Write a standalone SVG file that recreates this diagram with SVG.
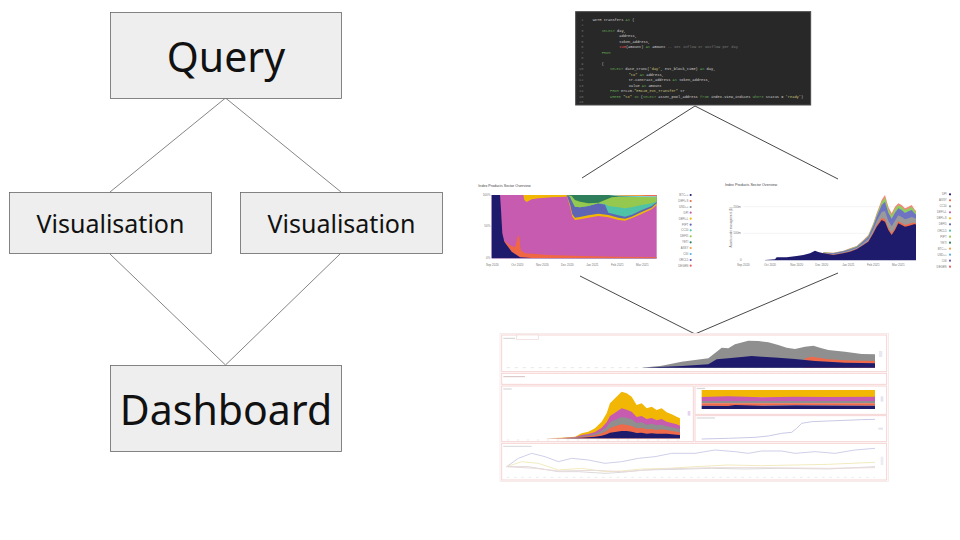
<svg xmlns="http://www.w3.org/2000/svg" width="960" height="540" viewBox="0 0 960 540">
<defs>
<style>
.node rect{fill:#eeeeee;stroke:#666666;stroke-width:0.8}
.node text{font-family:"Noto Sans","Open Sans",sans-serif;fill:#111;text-anchor:middle}
.conn line{stroke:#666666;stroke-width:0.8}
.conn2 line{stroke:#333333;stroke-width:0.9}
.code text{font-family:"Liberation Mono","DejaVu Sans Mono",monospace;font-size:11px;fill:#d4d4d4;white-space:pre}
.code .ln{fill:#6e6e6e;text-anchor:end}
.kw{fill:#5fa04e}
.st{fill:#c9c77a}
.fn{fill:#e05252}
.cm{fill:#7a7a7a}
.ax{font-family:"Liberation Sans","Noto Sans",sans-serif;font-size:9px;fill:#777}
.ttl{font-family:"Liberation Sans","Noto Sans",sans-serif;font-size:11px;fill:#444}
.lg{font-family:"Liberation Sans","Noto Sans",sans-serif;font-size:8.5px;fill:#777;text-anchor:end}
.pan{fill:#ffffff;stroke:#f6d3d3;stroke-width:3}
.ln1{fill:none;stroke-width:3}
</style>
</defs>
<rect width="960" height="540" fill="#ffffff"/>

<g id="connectors" class="conn">
<line x1="225.5" y1="98" x2="110" y2="192"/>
<line x1="225.5" y1="98" x2="341" y2="192"/>
<line x1="110" y1="254" x2="225.5" y2="365"/>
<line x1="340" y1="254" x2="225.5" y2="365"/>
</g>

<g id="query" class="node"><rect x="110.5" y="12.5" width="231" height="86"/><text x="226" y="72" font-size="41">Query</text></g>
<g id="vis-left" class="node"><rect x="9.5" y="192.5" width="202" height="61"/><text x="110.5" y="233" font-size="25">Visualisation</text></g>
<g id="vis-right" class="node"><rect x="240.5" y="192.5" width="202" height="61"/><text x="341.5" y="233" font-size="25">Visualisation</text></g>
<g id="dashboard" class="node"><rect x="110.5" y="365.5" width="231" height="86"/><text x="226" y="425" font-size="41">Dashboard</text></g>

<g id="connectors-right" class="conn2">
<line x1="695" y1="106" x2="582" y2="178"/>
<line x1="695" y1="106" x2="838" y2="179"/>
<line x1="580" y1="276" x2="695" y2="334"/>
<line x1="838" y1="273" x2="695" y2="334"/>
</g>

<g id="code-screenshot" class="code" transform="translate(570,5) scale(0.33333)">
<rect x="17" y="20" width="705" height="280" fill="#282828" stroke="#4a4a4a" stroke-width="3"/>
<text class="ln" x="40" y="48">1</text><text class="ln" x="40" y="64">2</text><text class="ln" x="40" y="81">3</text><text class="ln" x="40" y="97">4</text><text class="ln" x="40" y="114">5</text><text class="ln" x="40" y="130">6</text><text class="ln" x="40" y="146">7</text><text class="ln" x="40" y="163">8</text><text class="ln" x="40" y="179">9</text><text class="ln" x="40" y="196">10</text><text class="ln" x="40" y="212">11</text><text class="ln" x="40" y="228">12</text><text class="ln" x="40" y="245">13</text><text class="ln" x="40" y="261">14</text><text class="ln" x="40" y="278">15</text><text class="ln" x="40" y="294">16</text>
<text x="68" y="48">WITH transfers <tspan class="kw">AS</tspan> (</text>
<text x="95" y="81"><tspan class="kw">SELECT</tspan> day,</text>
<text x="148" y="97">address,</text>
<text x="148" y="114">token_address,</text>
<text x="148" y="130"><tspan class="fn">sum</tspan>(amount) <tspan class="kw">AS</tspan> amount <tspan class="cm">-- Net inflow or outflow per day</tspan></text>
<text x="95" y="146"><tspan class="kw">FROM</tspan></text>
<text x="95" y="179">(</text>
<text x="120" y="196"><tspan class="kw">SELECT</tspan> date_trunc(<tspan class="st">'day'</tspan>, evt_block_time) <tspan class="kw">AS</tspan> day,</text>
<text x="176" y="212"><tspan class="st">"to"</tspan> <tspan class="kw">AS</tspan> address,</text>
<text x="176" y="228">tr.contract_address <tspan class="kw">AS</tspan> token_address,</text>
<text x="176" y="245">value <tspan class="kw">AS</tspan> amount</text>
<text x="120" y="261"><tspan class="kw">FROM</tspan> erc20.<tspan class="st">"ERC20_evt_Transfer"</tspan> tr</text>
<text x="120" y="278"><tspan class="kw">WHERE</tspan> <tspan class="st">"to"</tspan> <tspan class="kw">IN</tspan> (<tspan class="kw">SELECT</tspan> asset_pool_address <tspan class="kw">from</tspan> index.view_indices <tspan class="kw">where</tspan> status = <tspan class="st">'ready'</tspan>)</text>
</g>

<g id="chart-share" transform="translate(465,170) scale(0.33333)">
<text class="ttl" x="40" y="50">Index Products Sector Overview</text>
<rect x="80" y="75" width="495" height="190" fill="#c65bb0"/>
<polygon fill="#ef6843" points="106,100 110,185 118,212 135,226 150,232 155,214 159,196 163,202 167,240 180,250 250,255 350,258 450,260 575,262 575,265 200,264 165,262 140,245 118,215 112,190"/>
<polygon fill="#1e1a6c" points="80,75 105,75 108,120 112,190 118,215 140,245 165,262 200,264 575,264 575,265 80,265"/>
<polygon fill="#f2b705" points="175,75 305,75 305,80 260,82 220,85 200,88 185,96 178,90"/>
<polygon fill="#f2b705" points="305,75 305,75 315,110 322,140 330,150 345,148 370,143 400,138 430,142 460,150 480,152 500,145 530,132 560,118 575,105 575,75"/>
<polygon fill="#5f65b5" points="305,75 315,103 322,133 330,143 345,141 370,136 400,131 430,135 460,143 480,146 500,140 530,126 560,113 575,100 575,75"/>
<polygon fill="#4fc3a6" points="305,75 315,80 322,95 330,110 345,112 370,108 400,100 420,104 430,128 460,136 480,140 500,134 530,120 560,108 575,96 575,75"/>
<polygon fill="#95c84e" points="305,75 315,80 322,95 330,110 345,112 370,108 400,100 420,102 430,108 460,112 480,115 500,112 530,105 560,100 575,95 575,75"/>
<polygon fill="#2e7d5b" points="305,75 320,78 330,90 345,95 370,100 400,98 420,90 440,82 460,80 575,80 575,75"/>
<polygon fill="#7fd0e0" points="430,75 460,79 500,80 575,82 575,75"/>
<polygon fill="#f59a3a" points="440,75 470,77 520,78 575,79 575,75"/>
<polygon fill="#ef5b5b" points="525,75 545,77 575,77 575,75"/>
<text class="ax" x="76" y="78" text-anchor="end">100%</text>
<text class="ax" x="76" y="171" text-anchor="end">50%</text>
<text class="ax" x="76" y="268" text-anchor="end">0%</text>
<g class="ax" text-anchor="middle"><text x="82" y="287">Sep 2020</text><text x="157" y="287">Oct 2020</text><text x="232" y="287">Nov 2020</text><text x="307" y="287">Dec 2020</text><text x="382" y="287">Jan 2021</text><text x="457" y="287">Feb 2021</text><text x="532" y="287">Mar 2021</text></g>
<g class="lg">
<text x="670" y="78">BTC++</text><text x="670" y="96">DEFI+S</text><text x="670" y="114">USD++</text><text x="670" y="131">DPI</text><text x="670" y="149">DEFI+L</text><text x="670" y="167">PIPT</text><text x="670" y="184">CC10</text><text x="670" y="202">DEFI5</text><text x="670" y="220">YETI</text><text x="670" y="237">ASSY</text><text x="670" y="255">CGI</text><text x="670" y="273">ORCL5</text><text x="670" y="290">DEGEN</text>
</g>
<g>
<circle cx="677" cy="75" r="3.2" fill="#1e1a6c"/><circle cx="677" cy="93" r="3.2" fill="#ef6843"/><circle cx="677" cy="111" r="3.2" fill="#8c8c8c"/><circle cx="677" cy="128" r="3.2" fill="#c65bb0"/><circle cx="677" cy="146" r="3.2" fill="#f2b705"/><circle cx="677" cy="164" r="3.2" fill="#5f65b5"/><circle cx="677" cy="181" r="3.2" fill="#4fc3a6"/><circle cx="677" cy="199" r="3.2" fill="#95c84e"/><circle cx="677" cy="217" r="3.2" fill="#2e7d5b"/><circle cx="677" cy="234" r="3.2" fill="#f59a3a"/><circle cx="677" cy="252" r="3.2" fill="#5aaee0"/><circle cx="677" cy="270" r="3.2" fill="#7a4fb0"/><circle cx="677" cy="287" r="3.2" fill="#ef5b5b"/>
</g>
</g>

<g id="chart-aum" transform="translate(700,170) scale(0.33333)">
<text class="ttl" x="75" y="48">Index Products Sector Overview</text>
<line x1="130" y1="110" x2="650" y2="110" stroke="#eeeeee" stroke-width="2"/>
<line x1="130" y1="190" x2="650" y2="190" stroke="#eeeeee" stroke-width="2"/>
<text class="ax" transform="translate(96,172) rotate(-90)" text-anchor="middle" font-size="9">Assets under management ($)</text>
<text class="ax" x="100" y="113">200m</text>
<text class="ax" x="100" y="193">100m</text>
<text class="ax" x="125" y="273" text-anchor="end">0</text>
<polygon fill="#f08a7a" points="370,270 370,247 400,248 430,242 450,235 470,228 490,210 505,195 520,160 530,130 545,90 555,75 565,110 575,130 585,110 595,100 605,105 615,115 625,110 635,105 645,120 648,122 648,270"/>
<polygon fill="#8fcf5f" points="370,270 370,247 400,249 430,243 450,236 470,229 490,212 505,197 520,163 530,134 545,96 555,83 565,117 575,137 585,117 595,106 605,111 615,120 625,116 635,111 645,124 648,126 648,270"/>
<polygon fill="#6e74c2" points="370,270 370,248 400,250 430,244 450,238 470,231 490,214 505,200 520,168 530,140 545,105 555,95 565,128 575,146 585,128 595,115 605,120 615,129 625,124 635,120 645,131 648,133 648,270"/>
<polygon fill="#9a9a9a" points="370,270 370,249 400,252 430,247 450,241 470,234 490,219 505,207 520,178 530,154 545,126 555,123 565,152 575,169 585,152 595,136 605,141 615,148 625,145 635,141 645,145 648,147 648,270"/>
<polygon fill="#ef6a4a" points="370,270 370,250 400,254 430,249 450,244 470,237 490,224 505,213 520,187 530,166 545,144 555,147 565,173 575,189 585,173 595,154 605,159 615,165 625,162 635,159 645,158 648,160 648,270"/>
<polygon fill="#1e1a6c" points="195,270 225,268 230,262 260,262 290,258 310,255 330,250 345,242 355,246 370,250 400,255 430,250 450,245 470,238 490,225 505,215 520,190 530,170 545,150 555,155 565,180 575,195 585,180 595,160 605,165 615,170 625,168 635,165 645,162 648,164 648,271 195,271"/>
<g class="ax" text-anchor="middle"><text x="130" y="288">Sep 2020</text><text x="210" y="288">Oct 2020</text><text x="290" y="288">Nov 2020</text><text x="365" y="288">Dec 2020</text><text x="445" y="288">Jan 2021</text><text x="520" y="288">Feb 2021</text><text x="595" y="288">Mar 2021</text></g>
<g class="lg">
<text x="740" y="76">DPI</text><text x="740" y="94">ASSY</text><text x="740" y="112">CC10</text><text x="740" y="130">DEFI+L</text><text x="740" y="148">DEFI+S</text><text x="740" y="166">DEFI5</text><text x="740" y="185">ORCL5</text><text x="740" y="203">PIPT</text><text x="740" y="221">YETI</text><text x="740" y="239">BTC++</text><text x="740" y="257">USD++</text><text x="740" y="275">CGI</text><text x="740" y="293">DEGEN</text>
</g>
<g>
<circle cx="750" cy="73" r="3.2" fill="#1e1a6c"/><circle cx="750" cy="91" r="3.2" fill="#ef6843"/><circle cx="750" cy="109" r="3.2" fill="#8c8c8c"/><circle cx="750" cy="127" r="3.2" fill="#c65bb0"/><circle cx="750" cy="145" r="3.2" fill="#f2b705"/><circle cx="750" cy="163" r="3.2" fill="#5f65b5"/><circle cx="750" cy="182" r="3.2" fill="#4fc3a6"/><circle cx="750" cy="200" r="3.2" fill="#95c84e"/><circle cx="750" cy="218" r="3.2" fill="#2e7d5b"/><circle cx="750" cy="236" r="3.2" fill="#f59a3a"/><circle cx="750" cy="254" r="3.2" fill="#5aaee0"/><circle cx="750" cy="272" r="3.2" fill="#7a4fb0"/><circle cx="750" cy="290" r="3.2" fill="#ef5b5b"/>
</g>
</g>

<g id="dashboard-screenshot" transform="translate(495,325) scale(0.33333)">
<rect x="15" y="25" width="1165" height="445" fill="#ffffff" stroke="#f3e3e3" stroke-width="2"/>
<rect class="pan" x="20" y="30" width="1155" height="110"/>
<rect x="65" y="30" width="65" height="14" fill="#fff" stroke="#f0d6d6" stroke-width="2"/>
<line x1="25" y1="40" x2="60" y2="40" stroke="#d0d0d0" stroke-width="3"/>
<line x1="35" y1="128" x2="1140" y2="128" stroke="#dddddd" stroke-width="2" stroke-dasharray="10,14"/>
<polygon fill="#8f8f8f" points="440,128 500,122 560,110 640,100 665,80 680,68 700,70 720,58 760,47 790,48 820,52 850,60 875,68 900,72 930,65 955,62 980,70 1000,75 1050,80 1100,87 1140,88 1140,128"/>
<polygon fill="#ef6a4a" points="930,100 950,95 1000,103 1050,106 1100,107 1140,108 1140,128 930,128"/>
<polygon fill="#1e1a6c" points="440,128 560,123 640,118 665,103 700,100 740,96 770,93 800,95 850,98 900,102 930,105 960,108 1000,110 1050,113 1100,114 1140,115 1140,128"/>
<rect x="1152" y="78" width="10" height="18" fill="#e8e8f0"/>
<rect class="pan" x="20" y="145" width="1155" height="33" fill="#fdecec"/>
<line x1="25" y1="155" x2="90" y2="155" stroke="#d6c0c0" stroke-width="3"/>
<rect class="pan" x="20" y="183" width="575" height="167"/>
<line x1="25" y1="192" x2="50" y2="192" stroke="#d0d0d0" stroke-width="3"/>
<line x1="35" y1="345" x2="560" y2="345" stroke="#e2e2e2" stroke-width="2" stroke-dasharray="8,22"/>
<polygon fill="#f2b705" points="150,340 200,338 240,335 260,325 280,320 300,310 320,290 335,265 345,235 360,220 380,200 395,205 410,215 425,240 440,235 455,250 470,245 485,255 500,250 515,262 530,268 545,275 555,280 555,340"/>
<polygon fill="#c65bb0" points="150,340 200,339 240,337 260,330 280,327 300,321 320,308 335,292 345,273 360,263 380,250 395,254 410,260 425,276 440,273 455,282 470,279 485,286 500,282 515,290 530,294 545,298 555,302 555,340"/>
<polygon fill="#8f8f8f" points="150,340 200,339 240,338 260,333 280,331 300,326 320,317 335,306 345,292 360,285 380,276 395,278 410,283 425,294 440,292 455,299 470,296 485,301 500,299 515,304 530,307 545,310 555,312 555,340"/>
<polygon fill="#ef6a4a" points="150,340 200,339 240,339 260,336 280,334 300,331 320,325 335,318 345,309 360,304 380,298 395,300 410,303 425,310 440,309 455,313 470,312 485,315 500,313 515,315 530,318 545,320 555,322 555,340"/>
<polygon fill="#1e1a6c" points="150,340 200,340 240,339 260,338 280,337 300,335 320,332 335,328 345,323 360,321 380,318 395,318 410,320 425,324 440,323 455,326 470,325 485,326 500,326 515,326 530,328 545,329 555,330 555,340"/>
<rect x="578" y="258" width="8" height="14" fill="#e6d2ea"/>
<rect class="pan" x="600" y="183" width="575" height="85"/>
<line x1="605" y1="190" x2="630" y2="190" stroke="#d0d0d0" stroke-width="3"/>
<rect x="620" y="195" width="520" height="23" fill="#f2b705"/>
<polygon fill="#c65bb0" points="620,216 700,214 800,217 900,215 1000,216 1140,215 1140,228 620,228"/>
<rect x="620" y="228" width="520" height="7" fill="#8f8f8f"/>
<polygon fill="#ef6a4a" points="620,235 1140,235 1140,242 900,241 700,243 620,242"/>
<polygon fill="#1e1a6c" points="620,242 700,243 720,240 800,242 900,241 1140,242 1140,252 620,252"/>
<rect x="1157" y="214" width="8" height="16" fill="#e4e4ee"/>
<rect class="pan" x="600" y="272" width="575" height="78"/>
<line x1="605" y1="279" x2="660" y2="279" stroke="#d0d0d0" stroke-width="3"/>
<polyline class="ln1" stroke="#c9c9e6" points="620,342 700,340 780,337 820,333 860,325 890,322 905,310 920,295 950,290 1000,288 1050,286 1100,284 1140,283"/>
<rect x="1150" y="308" width="14" height="6" fill="#e4e4ee"/>
<rect class="pan" x="20" y="355" width="1155" height="110"/>
<line x1="25" y1="364" x2="110" y2="364" stroke="#d6d6d6" stroke-width="3"/>
<line x1="35" y1="457" x2="1140" y2="457" stroke="#e2e2e2" stroke-width="2" stroke-dasharray="8,14"/>
<polyline class="ln1" stroke="#cfcfe8" points="35,425 70,400 110,385 150,395 190,410 230,400 280,405 330,415 380,410 430,400 480,395 530,385 600,385 660,375 720,380 760,385 800,378 860,378 900,385 960,380 1020,385 1080,375 1140,370"/>
<polyline class="ln1" stroke="#f1ebbf" points="35,425 80,410 130,415 190,435 260,430 330,440 380,438 440,432 520,430 600,425 700,420 800,422 900,420 1000,418 1140,412"/>
<polyline class="ln1" stroke="#dadada" points="35,425 100,425 190,440 250,440 330,445 380,442 450,435 550,433 650,430 750,432 850,430 1000,432 1140,425"/>
<polyline class="ln1" stroke="#eadada" points="35,425 120,430 190,438 300,436 380,440 500,432 650,428 800,428 1000,430 1140,428"/>
<rect x="1157" y="395" width="8" height="25" fill="#ececf2"/>
</g>
</svg>
